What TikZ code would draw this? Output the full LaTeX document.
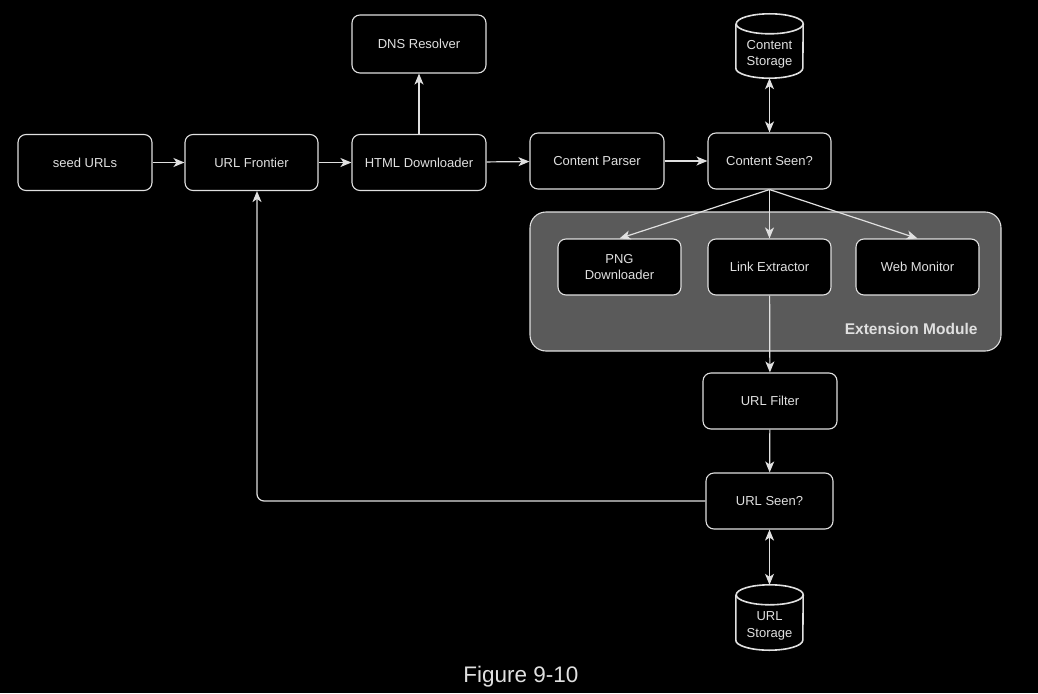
\documentclass[tikz,border=0pt]{standalone}
\usepackage{fontspec}
\setmainfont{Liberation Sans}
\usepackage{tikz}
\usetikzlibrary{arrows.meta}

\definecolor{edgegray}{HTML}{E0E0E0}
\definecolor{modgray}{HTML}{5A5A5A}

\tikzset{
    box/.style={shape=rectangle, rounded corners=8pt, draw=edgegray, fill=black, line width=1.1pt,
        text=edgegray, align=center, font=\fontsize{13}{16}\selectfont,
        minimum width=134pt, minimum height=56pt, inner sep=0pt},
    store/.style={shape=rectangle, minimum width=67pt, minimum height=64pt, inner sep=0pt,
        label={[yshift=-8.5pt, align=center, text=edgegray, font=\fontsize{13}{16.5}\selectfont]center:#1}},
    drum/.style={draw=edgegray, line width=1.6pt},
    flow/.style={draw=edgegray, line width=1.2pt, -{Stealth[length=11pt, width=9pt, inset=3pt]}},
    both/.style={flow, {Stealth[length=11pt, width=9pt, inset=3pt]}-{Stealth[length=11pt, width=9pt, inset=3pt]}}
}

\begin{document}
\begin{tikzpicture}[x=1pt, y=-1pt]
        \fill[black] (0, 0) rectangle (1038, 693);
        \useasboundingbox (0, 0) rectangle (1038, 693);

        % extension module background
        \node[shape=rectangle, rounded corners=16pt, draw=edgegray, fill=modgray, line width=1.1pt,
            minimum width=471pt, minimum height=139pt] (module) at (765.5, 281.5) {};
        \node[anchor=east, text=edgegray, font=\fontsize{15.5}{18}\selectfont\bfseries] (modlabel) at (981, 329) {Extension Module};

        \node[box] (seed) at (85, 162.5) {seed URLs};
        \node[box, minimum width=133pt] (frontier) at (251.5, 162.5) {URL Frontier};
        \node[box] (html) at (419, 162.5) {HTML Downloader};
        \node[box, minimum height=58pt] (dns) at (419, 44) {DNS Resolver};
        \node[box] (parser) at (597, 161) {Content Parser};
        \node[box, minimum width=123pt] (seen) at (769.5, 161) {Content Seen?};
        \node[store={Content\\Storage}] (cstore) at (769.5, 46) {};

        \node[box, minimum width=123pt] (png) at (619.5, 267) {PNG\\Downloader};
        \node[box, minimum width=123pt] (link) at (769.5, 267) {Link Extractor};
        \node[box, minimum width=123pt] (web) at (917.5, 267) {Web Monitor};

        \node[box] (filter) at (770, 401) {URL Filter};
        \node[box, minimum width=127pt] (urlseen) at (769.5, 501) {URL Seen?};
        \node[store={URL\\Storage}, minimum height=65pt] (ustore) at (769.5, 617.5) {};

        \node[text=edgegray, font=\fontsize{22.5}{26}\selectfont] (caption) at (521, 677) {Figure 9-10};

        % storage drums
        \foreach \s in {cstore, ustore} {
            \path[drum] ([yshift=-10pt]\s.north west) -- ([yshift=10pt]\s.south west)
                arc[start angle=180, end angle=360, x radius=33.5pt, y radius=10pt]
                -- ([yshift=-10pt]\s.north east)
                arc[start angle=0, end angle=180, x radius=33.5pt, y radius=10pt];
            \path[drum] ([yshift=-10pt]\s.north east)
                arc[start angle=0, end angle=-180, x radius=33.5pt, y radius=10pt];
        }

        \path[flow] (seed) -- (frontier);
        \path[flow] (frontier) -- (html);
        \path[flow] (html) -- (dns);
        \path[flow] (html) -- (parser);
        \path[flow] (parser) -- (seen);
        \path[both] (seen) -- (cstore);

        \path[flow] (seen.south) -- (png.north);
        \path[flow] (seen) -- (link);
        \path[flow] (seen.south) -- (web.north);

        \path[flow] (link) -- (filter);
        \path[flow] (filter) -- (urlseen);
        \path[both] (urlseen) -- (ustore);

        \path[flow, rounded corners=7pt] (urlseen.west) -| ([xshift=5.5pt]frontier.south);
    \end{tikzpicture}
\end{document}
